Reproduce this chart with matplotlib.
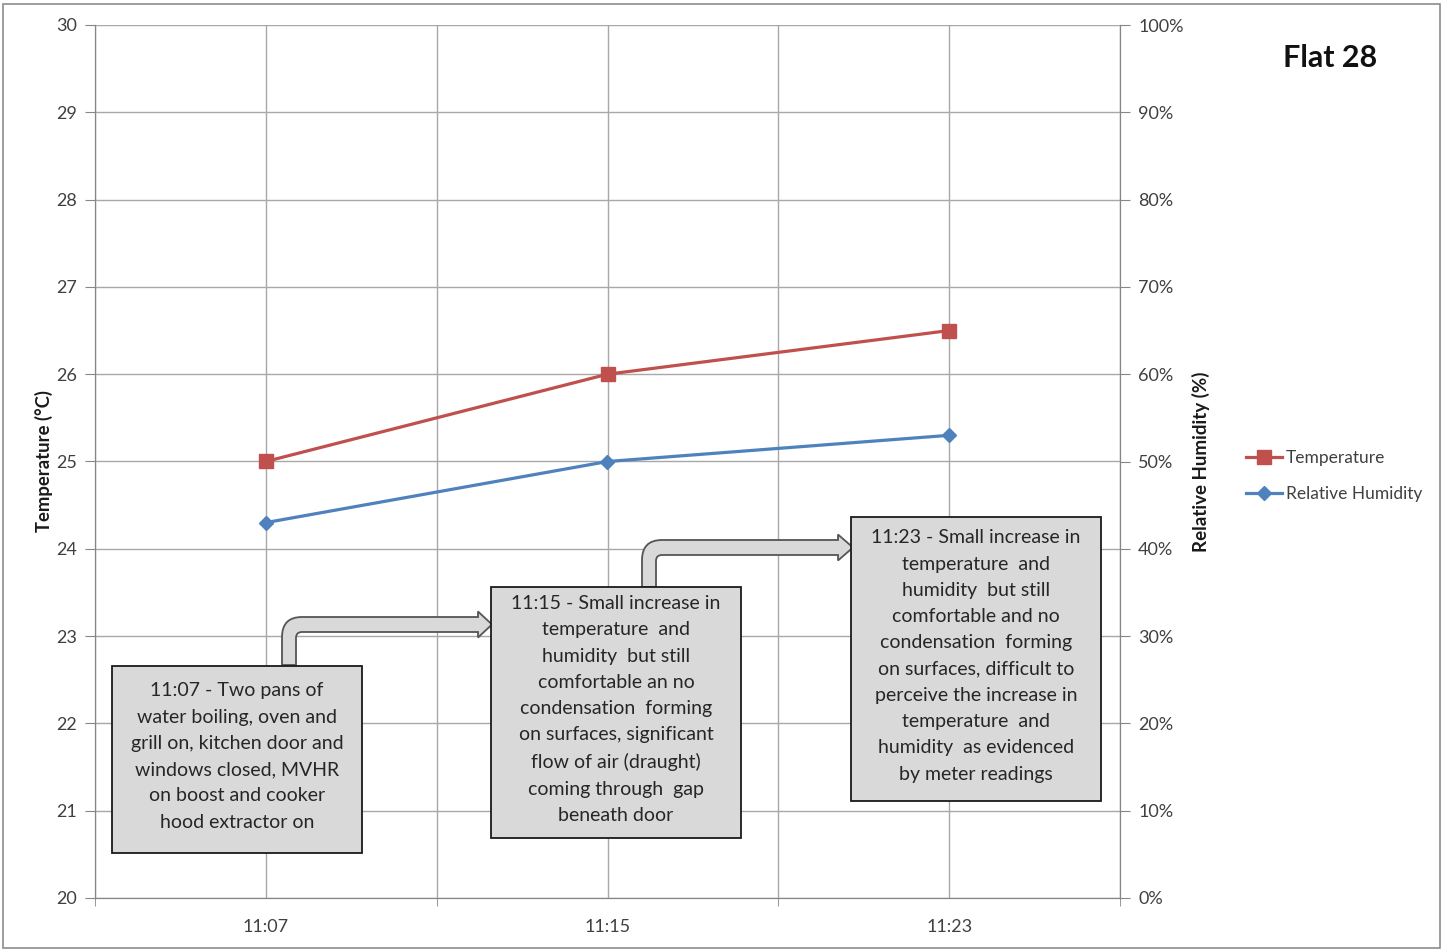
import matplotlib
matplotlib.use('Agg')
import matplotlib.pyplot as plt
import matplotlib.transforms as mtransforms
from matplotlib.patches import Rectangle, PathPatch
from matplotlib.path import Path
from matplotlib.ticker import FuncFormatter, FixedLocator

plt.rcParams['font.family'] = ['Lato', 'DejaVu Sans']

# readings
times = ['11:07', '11:15', '11:23']
temperature = [25.0, 26.0, 26.5]
humidity = [43, 50, 53]

notes = [
    '11:07 - Two pans of\nwater boiling, oven and\ngrill on, kitchen door and\n'
    'windows closed, MVHR\non boost and cooker\nhood extractor on',
    '11:15 - Small increase in\ntemperature  and\nhumidity  but still\n'
    'comfortable an no\ncondensation  forming\non surfaces, significant\n'
    'flow of air (draught)\ncoming through  gap\nbeneath door',
    '11:23 - Small increase in\ntemperature  and\nhumidity  but still\n'
    'comfortable and no\ncondensation  forming\non surfaces, difficult to\n'
    'perceive the increase in\ntemperature  and\nhumidity  as evidenced\nby meter readings',
]

W, H = 1447, 950
RED = '#c0504d'
BLUE = '#4f81bd'
GRID = '#a8a8a8'
TXT = '#404040'

fig = plt.figure(figsize=(W / 100, H / 100), dpi=100)
ax = fig.add_axes([95 / W, 52 / H, 1025 / W, 873 / H])
ax2 = ax.twinx()

x = list(range(len(times)))
ax.plot(x, temperature, color=RED, lw=2.3, marker='s', ms=10, label='Temperature', zorder=3)
ax2.plot(x, humidity, color=BLUE, lw=2.3, marker='D', ms=7.5, label='Relative Humidity', zorder=3)

ax.set_xlim(-0.5, 2.5)
ax.set_ylim(20, 30)
ax2.set_ylim(0, 100)
ax.set_yticks(range(20, 31))
ax2.set_yticks(range(0, 101, 10))
ax2.yaxis.set_major_formatter(FuncFormatter(lambda v, p: f'{int(v)}%'))

ax.set_xticks(x)
ax.set_xticklabels(times)
ax.xaxis.set_minor_locator(FixedLocator([-0.5, 0.5, 1.5, 2.5]))
ax.tick_params(axis='x', which='major', length=0, pad=15, labelsize=13, labelcolor=TXT)
ax.tick_params(axis='x', which='minor', length=6, color='#868686')
ax.tick_params(axis='y', length=7, color='#868686', labelsize=13, labelcolor=TXT, pad=6)
ax2.tick_params(axis='y', length=7, color='#868686', labelsize=13, labelcolor=TXT, pad=6)

ax.grid(True, which='both', axis='x', color=GRID, lw=1)
ax.grid(True, which='major', axis='y', color=GRID, lw=1)
ax.set_axisbelow(True)
for a in (ax, ax2):
    for s in a.spines.values():
        s.set_color('#868686')
    a.spines['top'].set_visible(False)

ax.set_ylabel('Temperature (°C)', fontsize=13.3, fontweight='bold', color='#1a1a1a', labelpad=2)
ax2.set_ylabel('Relative Humidity (%)', fontsize=13.5, fontweight='bold', color='#1a1a1a', labelpad=6)

fig.text(1330 / W, 1 - 58 / H, 'Flat 28', fontsize=22, fontweight='bold', ha='center', va='center', color='#111111')

# legend
h1, l1 = ax.get_legend_handles_labels()
h2, l2 = ax2.get_legend_handles_labels()
fig.legend(h1 + h2, l1 + l2, loc='center left', bbox_to_anchor=(1230 / W, 1 - 476 / H),
           frameon=False, fontsize=12.5, handlelength=2.1, handletextpad=0.2,
           labelspacing=1.2, labelcolor=TXT)

# pixel space, origin top-left
px = mtransforms.Affine2D().scale(1 / W, -1 / H).translate(0, 1) + fig.transFigure

boxes = [(112, 666, 362, 853), (491, 587, 741, 838), (851, 517, 1101, 801)]
for (x0, y0, x1, y1), note in zip(boxes, notes):
    fig.patches.append(Rectangle((x0, y0), x1 - x0, y1 - y0, transform=px,
                                 facecolor='#d9d9d9', edgecolor='#1a1a1a', lw=1.3, zorder=5))
    fig.text((x0 + x1) / 2, (y0 + y1) / 2 - 3, note, transform=px, ha='center', va='center',
             fontsize=14, linespacing=1.66, color='#262626', zorder=6)


def bent_arrow(xl, xr, ybot, ytop, yin, xhead, xtip, hh):
    yc = (ytop + yin) / 2
    r_out = 20
    r_in = 6
    verts = [
        (xl, ybot), (xl, ytop + r_out), (xl, ytop), (xl + r_out, ytop),
        (xhead, ytop), (xhead, yc - hh), (xtip, yc), (xhead, yc + hh),
        (xhead, yin), (xr + r_in, yin), (xr, yin), (xr, yin + r_in),
        (xr, ybot), (xl, ybot),
    ]
    codes = [Path.MOVETO, Path.LINETO, Path.CURVE3, Path.CURVE3,
             Path.LINETO, Path.LINETO, Path.LINETO, Path.LINETO,
             Path.LINETO, Path.LINETO, Path.CURVE3, Path.CURVE3,
             Path.LINETO, Path.CLOSEPOLY]
    return PathPatch(Path(verts, codes), transform=px, facecolor='#d9d9d9',
                     edgecolor='#555555', lw=1.3, zorder=4)


fig.patches.append(bent_arrow(282, 296, 665, 617, 632, 478, 492, 13))
fig.patches.append(bent_arrow(642, 656, 587, 540, 555, 838, 853, 13))

# outer frame
fig.patches.append(Rectangle((3, 4), 1437, 944, transform=px, fill=False,
                             edgecolor='#8c8c8c', lw=1.2, zorder=1))

fig.savefig('out.png', dpi=100)
